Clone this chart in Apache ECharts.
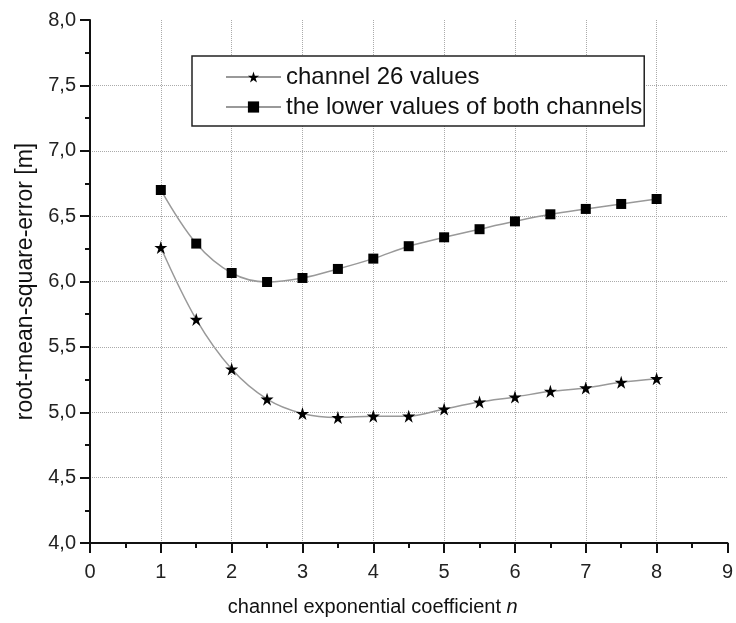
<!DOCTYPE html>
<html>
<head>
<meta charset="utf-8">
<script src="https://cdn.jsdelivr.net/npm/echarts@6/dist/echarts.min.js"></script>
<style>html,body{margin:0;padding:0;background:#fff}#c{width:736px;height:623px}</style>
</head>
<body>
<div id="c"></div>
<script>
const xValues = [1, 1.5, 2, 2.5, 3, 3.5, 4, 4.5, 5, 5.5, 6, 6.5, 7, 7.5, 8];
const channel26 = [6.26, 5.71, 5.33, 5.10, 4.99, 4.96, 4.97, 4.97, 5.025, 5.078, 5.117, 5.16, 5.186, 5.229, 5.257];
const lowerBoth = [6.70, 6.29, 6.065, 5.996, 6.027, 6.096, 6.175, 6.27, 6.338, 6.40, 6.46, 6.514, 6.555, 6.593, 6.631];
const seriesNames = ['channel 26 values', 'the lower values of both channels'];
const xAxisTitle = 'channel exponential coefficient ';
const yAxisTitle = 'root-mean-square-error [m]';

const starPath = 'path://M50,0 L61.8,35.4 L100,35.4 L69.1,57.3 L80.9,93.3 L50,71.4 L19.1,93.3 L30.9,57.3 L0,35.4 L38.2,35.4 Z';
const font = 'Liberation Sans, Arial, Helvetica, sans-serif';

const chart = echarts.init(document.getElementById('c'), null, {renderer: 'canvas'});
chart.setOption({
  animation: false,
  backgroundColor: '#fff',
  grid: {left: 90, right: 4, top: 20, bottom: 80, containLabel: false},
  legend: {
    orient: 'vertical',
    left: 192,
    top: 56,
    padding: [9, 2, 7, 33],
    itemWidth: 55,
    itemHeight: 14,
    itemGap: 6,
    itemStyle: {borderWidth: 0},
    borderColor: '#222',
    borderWidth: 1.5,
    backgroundColor: '#fff',
    textStyle: {fontFamily: font, fontSize: 24, color: '#111'},
    data: seriesNames
  },
  xAxis: {
    type: 'value', min: 0, max: 9, interval: 1,
    name: xAxisTitle + '{i|n}',
    nameLocation: 'middle',
    nameGap: 54,
    nameTextStyle: {
      fontFamily: font, fontSize: 20, color: '#111', padding: [0, 72, 0, 0],
      rich: {i: {fontFamily: font, fontSize: 20, fontStyle: 'italic', color: '#111'}}
    },
    axisLine: {show: true, onZero: false, lineStyle: {color: '#111', width: 2}},
    axisTick: {show: true, length: 10, lineStyle: {color: '#111', width: 2}},
    minorTick: {show: true, splitNumber: 2, length: 5, lineStyle: {color: '#111', width: 2}},
    axisLabel: {fontFamily: font, fontSize: 20, color: '#222', margin: 19},
    splitLine: {show: true, showMinLine: false, showMaxLine: false, lineStyle: {color: '#aaa', type: 'dotted', width: 1}}
  },
  yAxis: {
    type: 'value', min: 4, max: 8, interval: 0.5,
    name: yAxisTitle,
    nameLocation: 'middle',
    nameGap: 51,
    nameRotate: 90,
    nameTextStyle: {fontFamily: font, fontSize: 23, color: '#111'},
    axisLine: {show: true, onZero: false, lineStyle: {color: '#111', width: 2}},
    axisTick: {show: true, length: 10, lineStyle: {color: '#111', width: 2}},
    minorTick: {show: true, splitNumber: 2, length: 5, lineStyle: {color: '#111', width: 2}},
    axisLabel: {fontFamily: font, fontSize: 20, color: '#222', margin: 14,
      formatter: v => v.toFixed(1).replace('.', ',')},
    splitLine: {show: true, showMinLine: false, showMaxLine: false, lineStyle: {color: '#aaa', type: 'dotted', width: 1}}
  },
  series: [
    {
      name: seriesNames[0], type: 'line', smooth: 0.35,
      data: xValues.map((x, i) => [x, channel26[i]]),
      symbol: starPath, symbolSize: 13,
      lineStyle: {color: '#999', width: 1.5},
      itemStyle: {color: '#000', borderWidth: 0}
    },
    {
      name: seriesNames[1], type: 'line', smooth: 0.35,
      data: xValues.map((x, i) => [x, lowerBoth[i]]),
      symbol: 'rect', symbolSize: 10,
      lineStyle: {color: '#999', width: 1.5},
      itemStyle: {color: '#000', borderWidth: 0}
    }
  ]
});
</script>
</body>
</html>
